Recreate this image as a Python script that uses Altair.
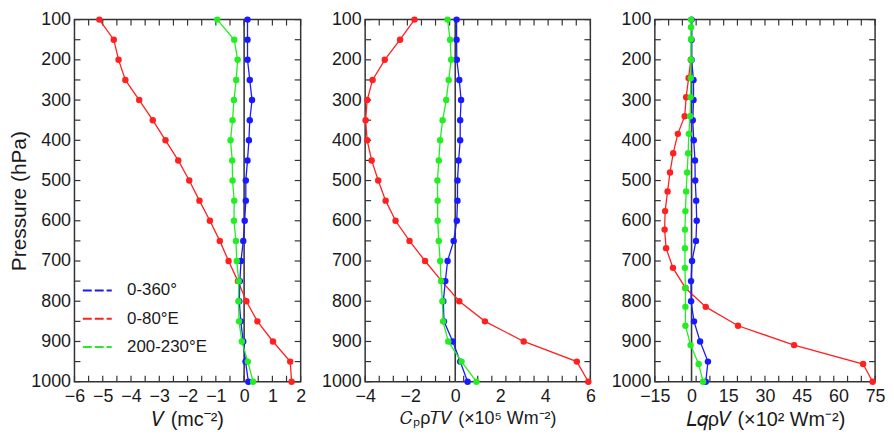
import altair as alt
import pandas as pd

FONT = "Liberation Sans"
TXT = "#1a1a1a"
FRAME = "#333333"

# ---------------- data ----------------
series_names = ["0-360°", "0-80°E", "200-230°E"]
series_colors = ["#1a1aff", "#ff2020", "#22ee22"]

p_std = [100, 150, 200, 250, 300, 350, 400, 450, 500, 550,
         600, 650, 700, 750, 800, 850, 900, 950, 1000]

# Panel 1: V (mc-2)
v1_blue = [0.12, 0.12, 0.12, 0.20, 0.28, 0.20, 0.17, 0.12, 0.06, 0.06,
           0.02, -0.03, -0.11, -0.15, -0.17, -0.12, -0.03, 0.05, 0.15]
v1_red = [-5.12, -4.61, -4.44, -4.20, -3.71, -3.23, -2.78, -2.33, -1.94, -1.58,
          -1.21, -0.86, -0.55, -0.22, 0.08, 0.47, 1.02, 1.63, 1.68]
v1_green = [-0.95, -0.35, -0.23, -0.28, -0.36, -0.41, -0.48, -0.42, -0.41, -0.35,
            -0.36, -0.29, -0.26, -0.19, -0.20, -0.18, -0.08, 0.13, 0.32]

# Panel 2: Cp rho T V (x10^5 Wm-2)
v2_blue = [0.06, 0.06, 0.07, 0.18, 0.26, 0.22, 0.22, 0.15, 0.10, 0.10,
           0.07, -0.07, -0.34, -0.44, -0.53, -0.50, -0.11, 0.22, 0.55]
v2_red = [-1.81, -2.45, -3.13, -3.67, -3.91, -3.98, -3.91, -3.71, -3.42, -3.09,
          -2.65, -2.03, -1.34, -0.60, 0.18, 1.32, 3.04, 5.40, 5.91]
v2_green = [-0.34, -0.23, -0.18, -0.29, -0.40, -0.56, -0.67, -0.73, -0.79, -0.78,
            -0.78, -0.73, -0.67, -0.63, -0.57, -0.54, -0.31, 0.28, 0.94]

# Panel 3: L q rho V (x10^2 Wm-2)
v3_blue = [0.0, 0.0, 0.0, 0.8, 0.8, 0.5, 0.9, 1.4, 1.5, 1.9,
           2.1, 1.8, 0.2, -0.2, -0.2, 1.0, 3.5, 6.7, 5.8]
p3_red = [200, 245, 293, 340, 384, 432, 480, 527, 576, 622,
          668, 717, 767, 814, 861, 909, 956, 1000]
v3_red = [-0.3, -1.2, -2.2, -2.8, -5.6, -7.5, -8.8, -9.8, -10.8, -11.0,
          -10.4, -7.6, -2.5, 5.8, 19.0, 41.9, 70.1, 74.0]
p3_green = [100, 119, 148, 200, 245, 293, 340, 384, 432, 480, 527,
            576, 622, 668, 717, 767, 814, 861, 909, 956, 1000]
v3_green = [-0.2, -0.2, -0.2, -0.2, -0.3, -0.4, -0.6, -1.1, -1.4, -1.8, -2.2,
            -2.5, -2.7, -2.7, -2.7, -2.5, -2.5, -2.5, -0.4, 2.9, 4.7]

x1_labels = [-6, -5, -4, -3, -2, -1, 0, 1, 2]
x2_labels = [-4, -2, 0, 2, 4, 6]
x3_labels = [-15, 0, 15, 30, 45, 60, 75]
y_labels = [100, 200, 300, 400, 500, 600, 700, 800, 900, 1000]

x1_title = "𝑉 (mc⁻²)"
x2_title = "𝐶ₚρ𝑇𝑉 (×10⁵ Wm⁻²)"
x3_title = "𝐿𝑞ρ𝑉 (×10² Wm⁻²)"
y_title = "Pressure (hPa)"

H = 365
TICK = 6


def even_ticks(lo, hi, n):
    return [lo + (hi - lo) * i / n for i in range(n + 1)]


y_ticks = even_ticks(100, 1000, 18)


def panel(xdom, xlabels, xtitle, xtitle_size, series, width, with_legend, ytitle):
    xs = alt.Scale(domain=xdom, nice=False, zero=False)
    ys = alt.Scale(domain=[100, 1000], reverse=True, nice=False, zero=False)
    cs = alt.Scale(domain=series_names, range=series_colors)
    if with_legend:
        leg = alt.Legend(orient="none", legendX=7, legendY=257, title=None,
                         symbolType="stroke", symbolStrokeWidth=2, symbolSize=850,
                         symbolDash=[9, 3], labelFont=FONT, labelFontSize=17,
                         labelColor=TXT, labelOffset=14, rowPadding=4.5)
    else:
        leg = None

    layers = []
    # label axes (first layer)
    dom_df = pd.DataFrame({"v": xdom, "p": [100, 1000]})
    yax = dict(orient="left", values=y_labels, ticks=False, domain=False, grid=False,
               labelFont=FONT, labelFontSize=18, labelColor=TXT, labelPadding=4,
               labelFlush=False, labelOverlap=False, format="d")
    if ytitle:
        yax.update(title=ytitle, titleFont=FONT, titleFontSize=21, titleFontWeight="normal",
                   titleColor=TXT, titlePadding=1)
    else:
        yax.update(title=None)
    layers.append(alt.Chart(dom_df).mark_point(opacity=0).encode(
        x=alt.X("v:Q", scale=xs, axis=alt.Axis(
            orient="bottom", values=xlabels, ticks=False, domain=False, grid=False,
            labelFont=FONT, labelFontSize=18, labelColor=TXT, labelPadding=6,
            labelFlush=False, labelOverlap=False, format="d",
            title=xtitle, titleFont=FONT, titleFontSize=xtitle_size, titleFontWeight="normal",
            titleColor=TXT, titlePadding=4)),
        y=alt.Y("p:Q", scale=ys, axis=alt.Axis(**yax))))

    # inner ticks on all four sides
    xt_df = pd.DataFrame({"t": even_ticks(xdom[0], xdom[1], 16)})
    yt_df = pd.DataFrame({"t": y_ticks})
    tick_mark = dict(color=FRAME, strokeWidth=1.2)
    layers.append(alt.Chart(xt_df).mark_rule(**tick_mark).encode(
        x=alt.X("t:Q", scale=xs, axis=None), y=alt.value(H - TICK), y2=alt.value(H)))
    layers.append(alt.Chart(xt_df).mark_rule(**tick_mark).encode(
        x=alt.X("t:Q", scale=xs, axis=None), y=alt.value(0), y2=alt.value(TICK)))
    layers.append(alt.Chart(yt_df).mark_rule(**tick_mark).encode(
        y=alt.Y("t:Q", scale=ys, axis=None), x=alt.value(0), x2=alt.value(TICK)))
    layers.append(alt.Chart(yt_df).mark_rule(**tick_mark).encode(
        y=alt.Y("t:Q", scale=ys, axis=None), x=alt.value(width - TICK), x2=alt.value(width)))

    # zero line
    zero_df = pd.DataFrame({"z": [0]})
    layers.append(alt.Chart(zero_df).mark_rule(color="#3a3a3a", strokeWidth=1.6).encode(
        x=alt.X("z:Q", scale=xs, axis=None)))

    # series: red, blue, green drawing order
    for name, levels, vals in series:
        c = series_colors[series_names.index(name)]
        df = pd.DataFrame({"p": levels, "v": vals, "s": [name] * len(vals)})
        layers.append(alt.Chart(df).mark_line(strokeWidth=1.3).encode(
            x=alt.X("v:Q", scale=xs, axis=None),
            y=alt.Y("p:Q", scale=ys, axis=None),
            order=alt.Order("p:Q"),
            color=alt.Color("s:N", scale=cs, legend=leg)))
        layers.append(alt.Chart(df).mark_circle(size=42, opacity=1, color=c).encode(
            x=alt.X("v:Q", scale=xs, axis=None),
            y=alt.Y("p:Q", scale=ys, axis=None)))

    return alt.layer(*layers).resolve_axis(x="independent", y="independent").properties(
        width=width, height=H)


p1 = panel([-6, 2], x1_labels, x1_title, 20,
           [("0-80°E", p_std, v1_red), ("0-360°", p_std, v1_blue), ("200-230°E", p_std, v1_green)],
           228, True, y_title)
p2 = panel([-4, 6], x2_labels, x2_title, 18,
           [("0-80°E", p_std, v2_red), ("0-360°", p_std, v2_blue), ("200-230°E", p_std, v2_green)],
           227, False, None)
p3 = panel([-15, 75], x3_labels, x3_title, 20,
           [("0-80°E", p3_red, v3_red), ("0-360°", p_std, v3_blue), ("200-230°E", p3_green, v3_green)],
           222, False, None)

chart = alt.hconcat(p1, p2, p3, spacing=65, bounds="flush").resolve_scale(
    color="independent"
).properties(
    padding={"left": 0, "top": 0, "right": 0, "bottom": 0}
).configure_view(stroke=FRAME, strokeWidth=1.5)

chart.save("out.html", embed_options={"renderer": "svg", "actions": False})
